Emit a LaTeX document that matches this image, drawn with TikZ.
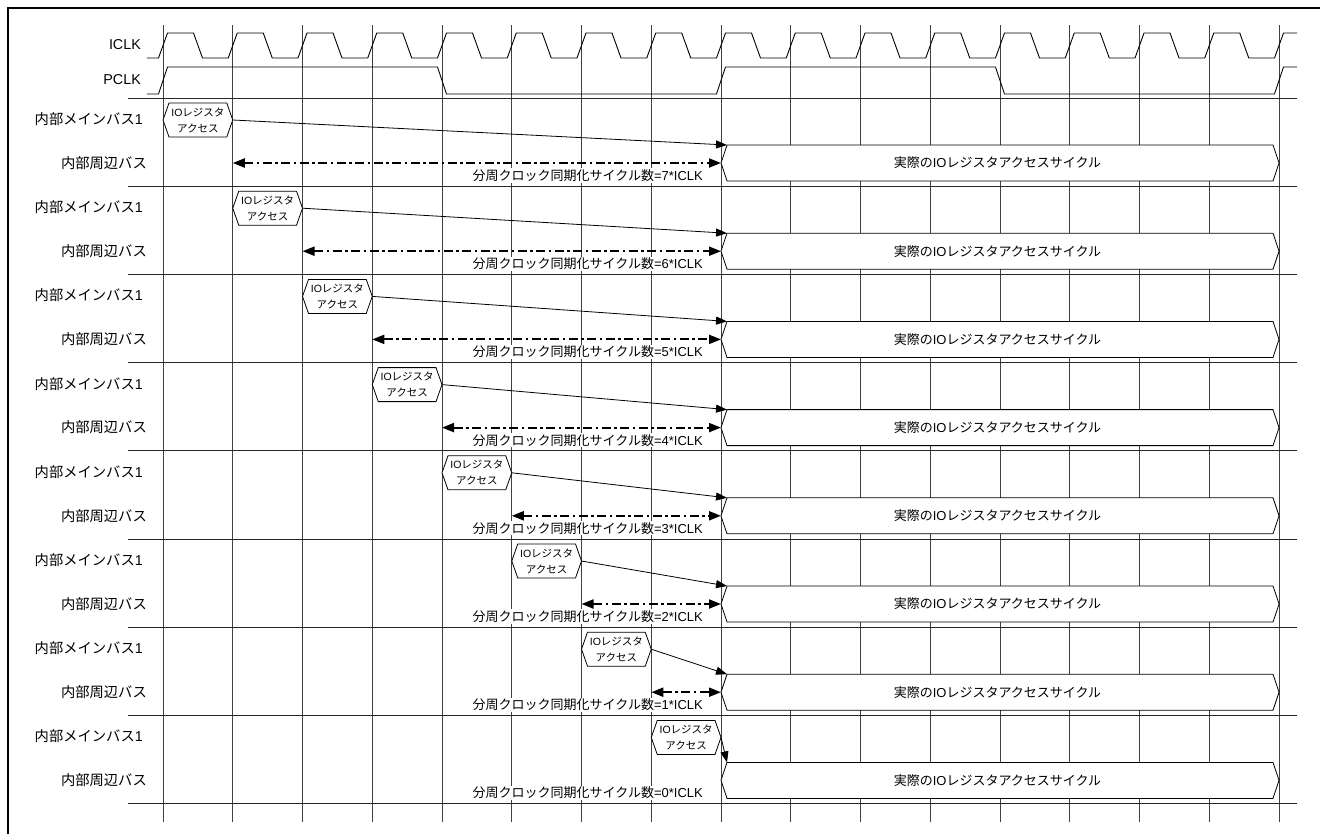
\documentclass[tikz,border=0pt]{standalone}
\usepackage{fontspec}
\setmainfont{Liberation Sans}
\newfontfamily\jp{Noto Sans CJK JP}
\usetikzlibrary{arrows.meta}
\begin{document}
\begin{tikzpicture}[x=1pt,y=-1pt,
  gridline/.style={black!75,line width=0.9pt},
  wave/.style={black,line width=0.9pt},
  rowline/.style={black!85,line width=1pt},
  lbl/.style={anchor=east,font=\fontsize{14.3}{16}\selectfont,inner sep=0pt},
  hexs/.style={draw=black,line width=0.8pt,fill=white},
  hext/.style={font=\fontsize{10.5}{16}\selectfont,align=center,inner sep=0pt},
  bigt/.style={font=\fontsize{13}{15}\selectfont,inner sep=0pt},
  note/.style={font=\fontsize{13}{15}\selectfont,anchor=east,fill=white,inner sep=1pt},
  req/.style={line width=0.8pt,-{Triangle[length=11pt,width=8pt]}},
  sync/.style={line width=2pt,dash pattern=on 9pt off 3.5pt on 2.5pt off 3.5pt,
     {Triangle[length=12pt,width=9pt]}-{Triangle[length=12pt,width=9pt]}}
]
\useasboundingbox (0,0) rectangle (1320,833);
% frame
\draw[line width=2pt] (8,850) -- (8,8) -- (1330,8);
% vertical grid
\foreach \i in {0,...,16}{
  \draw[gridline] ({163+69.75*\i},25) -- ({163+69.75*\i},822);
}
% row lines
\foreach \k in {0,...,8}{
  \draw[rowline] (128,{98+88.2*\k}) -- (1297,{98+88.2*\k});
}
% clocks
\node[lbl] (iclk) at (141,45) {ICLK};
\node[lbl] (pclk) at (141,80) {PCLK};
\draw[wave] (147,58)
  \foreach \i in {0,...,15}{
    -- ({163+69.75*\i-4.5},58) -- ({163+69.75*\i+4.5},33)
    -- ({163+69.75*\i+30.5},33) -- ({163+69.75*\i+39.5},58)
  }
  -- (1274.5,58) -- (1283.5,33) -- (1297,33);
\draw[wave] (147,94) -- (158.5,94) -- (167.5,67)
  -- (437.5,67) -- (446.5,94) -- (716.5,94) -- (725.5,67)
  -- (995.5,67) -- (1004.5,94) -- (1274.5,94) -- (1283.5,67) -- (1297,67);
% sections
\foreach \k in {0,...,7}{
  \pgfmathsetmacro\yo{88.2*\k}
  \pgfmathsetmacro\xa{163+69.75*\k}
  \pgfmathsetmacro\xb{\xa+69.75}
  \pgfmathtruncatemacro\n{7-\k}
  \node[lbl] (main\k) at (143,{119+\yo}) {{\jp 内部メインバス}1};
  \node[lbl] (peri\k) at (147,{163+\yo}) {{\jp 内部周辺バス}};
  \node[note] (note\k) at (704,{175.5+\yo}) {{\jp 分周クロック同期化サイクル数}=\n*ICLK};
  % access hexagon
  \draw[hexs] (\xa,{120+\yo}) -- ({\xa+6},{103+\yo}) -- ({\xb-6},{103+\yo})
     -- (\xb,{120+\yo}) -- ({\xb-6},{137+\yo}) -- ({\xa+6},{137+\yo}) -- cycle;
  \node[hext] (acc\k) at ({\xa+34.9},{120+\yo}) {IO{\jp レジスタ}\\{\jp アクセス}};
  \coordinate (accR\k) at (\xb,{120+\yo});
  % cycle hexagon
  \draw[hexs] (721,{163+\yo}) -- (727,{145+\yo}) -- (1273,{145+\yo})
     -- (1279,{163+\yo}) -- (1273,{181+\yo}) -- (727,{181+\yo}) -- cycle;
  \node[bigt] (cyc\k) at (997.5,{163+\yo}) {{\jp 実際の}IO{\jp レジスタアクセスサイクル}};
  \coordinate (cycTL\k) at (727,{145+\yo});
  \coordinate (cycL\k) at (721,{163+\yo});
  \draw[req] (accR\k) -- (cycTL\k);
  \ifnum\k<7
    \coordinate (syncS\k) at (\xb,{163+\yo});
    \draw[sync] (syncS\k) -- (cycL\k);
  \fi
}
\end{tikzpicture}
\end{document}
